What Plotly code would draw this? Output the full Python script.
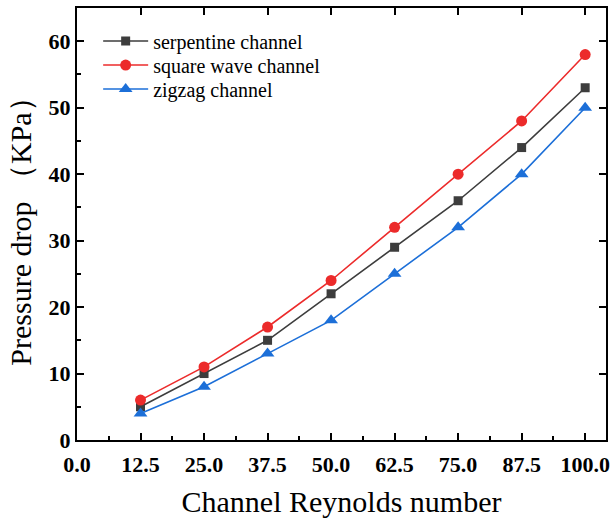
import plotly.graph_objects as go

reynolds = [12.5, 25.0, 37.5, 50.0, 62.5, 75.0, 87.5, 100.0]
serpentine = [5, 10, 15, 22, 29, 36, 44, 53]
square_wave = [6, 11, 17, 24, 32, 40, 48, 58]
zigzag = [4, 8, 13, 18, 25, 32, 40, 50]
x_ticks = [0.0, 12.5, 25.0, 37.5, 50.0, 62.5, 75.0, 87.5, 100.0]
x_minor = [6.25, 18.75, 31.25, 43.75, 56.25, 68.75, 81.25, 93.75]
y_ticks = [0, 10, 20, 30, 40, 50, 60]
y_minor = [5, 15, 25, 35, 45, 55]

FONT = "Times New Roman, Liberation Serif, serif"
fig = go.Figure()
series = [
    ("serpentine channel", serpentine, "#3d3d3d", "square", 9, "legend", 0.9236),
    ("square wave channel", square_wave, "#ec2b2b", "circle", 11, "legend2", 0.868),
    ("zigzag channel", zigzag, "#1c6fd8", "triangle-up", 12, "legend3", 0.8125),
]
for name, vals, col, sym, msize, leg, _ in series:
    fig.add_trace(go.Scatter(
        x=reynolds, y=vals, name=name, mode="lines+markers", legend=leg,
        line=dict(color=col, width=1.6),
        marker=dict(symbol=sym, size=msize, color=col),
    ))

fig.add_trace(go.Scatter(x=[None], y=[None], xaxis="x2", yaxis="y2", showlegend=False, hoverinfo="skip"))

XR = [0, 104.1]
axis_common = dict(showgrid=False, zeroline=False, linecolor="black", linewidth=2,
                   ticks="inside", tickcolor="black", tickwidth=2, ticklen=7)
legends = {}
for *_, leg, ypos in series:
    legends[leg] = dict(x=0.04, y=ypos, xanchor="left", yanchor="middle", bgcolor="rgba(0,0,0,0)",
                        font=dict(family=FONT, size=20, color="black"), itemwidth=45)
fig.update_layout(
    width=615, height=519,
    margin=dict(l=77, r=5, t=8, b=79),
    paper_bgcolor="white", plot_bgcolor="white",
    font=dict(family=FONT, color="black"),
    xaxis=dict(range=XR, tickvals=x_ticks, ticktext=[f"{v:.1f}" for v in x_ticks],
               mirror="ticks", showline=True, ticklabelstandoff=4,
               tickfont=dict(family=FONT, size=22, color="black", weight="bold"),
               title=dict(text="Channel Reynolds number", font=dict(family=FONT, size=30), standoff=15),
               **axis_common),
    yaxis=dict(range=[0, 65], tickvals=y_ticks, mirror="ticks", showline=True,
               tickfont=dict(family=FONT, size=22, color="black", weight="bold"),
               title=dict(text="Pressure drop （KPa）", font=dict(family=FONT, size=30), standoff=8),
               **axis_common),
    xaxis2=dict(overlaying="x", range=XR, tickvals=x_minor, ticks="inside", ticklen=4,
                tickwidth=2, tickcolor="black", showticklabels=False, showgrid=False,
                zeroline=False, showline=False, anchor="y2", side="bottom"),
    yaxis2=dict(overlaying="y", range=[0, 65], tickvals=y_minor, ticks="inside", ticklen=4,
                tickwidth=2, tickcolor="black", showticklabels=False, showgrid=False,
                zeroline=False, showline=False, anchor="x2", side="left"),
    showlegend=True,
    **legends,
)
fig.write_html("out.html")
